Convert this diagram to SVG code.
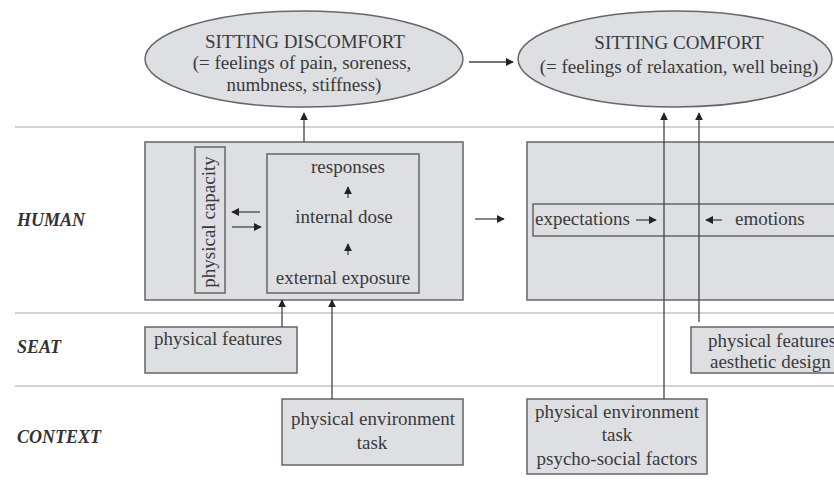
<svg xmlns="http://www.w3.org/2000/svg" width="834" height="484" viewBox="0 0 834 484">
<defs>
<marker id="ah" viewBox="0 0 10 10" refX="9" refY="5" markerWidth="8" markerHeight="8" markerUnits="userSpaceOnUse" orient="auto">
<path d="M0,0 L10,5 L0,10 z" fill="#222"/>
</marker>
<style>
.t{font-family:"Liberation Serif","Times New Roman",serif;font-size:19px;fill:#3a3a3a}
.m{text-anchor:middle}
.lab{font-family:"Liberation Serif","Times New Roman",serif;font-size:18px;font-weight:bold;font-style:italic;fill:#333}
.box{fill:#dddfe3;stroke:#666;stroke-width:1.5}
.lane{stroke:#c4c4c4;stroke-width:1.5}
.ca{stroke:#444;stroke-width:1.3;fill:none;marker-end:url(#ah)}
</style>
</defs>
<rect width="834" height="484" fill="#fff"/>
<g id="lanes">
<line class="lane" x1="15" y1="127" x2="834" y2="127"/>
<line class="lane" x1="15" y1="313" x2="834" y2="313"/>
<line class="lane" x1="15" y1="386" x2="834" y2="386"/>
<text class="lab" x="17" y="226">HUMAN</text>
<text class="lab" x="17" y="353">SEAT</text>
<text class="lab" x="17" y="443">CONTEXT</text>
</g>
<g id="discomfort">
<ellipse class="box" cx="304" cy="59" rx="159" ry="48"/>
<text class="t m" x="305" y="48">SITTING DISCOMFORT</text>
<text class="t m" x="302" y="69">(= feelings of pain, soreness,</text>
<text class="t m" x="304" y="91">numbness, stiffness)</text>
</g>
<g id="comfort">
<ellipse class="box" cx="675" cy="59" rx="157" ry="48"/>
<text class="t m" x="679" y="49">SITTING COMFORT</text>
<text class="t m" x="679" y="73">(= feelings of relaxation, well being)</text>
</g>
<g id="human-left">
<rect class="box" x="145" y="142" width="318" height="158"/>
</g>
<g id="capacity">
<rect class="box" x="195" y="147" width="30" height="146"/>
<text class="t m" transform="translate(215,222) rotate(-90)">physical capacity</text>
</g>
<g id="dose">
<rect class="box" x="267" y="154" width="152" height="139"/>
<text class="t m" x="348" y="173">responses</text>
<text class="t m" x="344" y="223">internal dose</text>
<text class="t m" x="343" y="284">external exposure</text>
</g>
<g id="human-right">
<rect class="box" x="527" y="142" width="320" height="158"/>
<rect class="box" x="533" y="204" width="314" height="32"/>
<text class="t" x="535" y="225">expectations</text>
<text class="t" x="735" y="225">emotions</text>
</g>
<g id="seat-left">
<rect class="box" x="145" y="327" width="152" height="46"/>
<text class="t" x="154" y="345">physical features</text>
</g>
<g id="seat-right">
<rect class="box" x="691" y="327" width="160" height="46"/>
<text class="t" x="708" y="347">physical features</text>
<text class="t" x="710" y="368">aesthetic design</text>
</g>
<g id="context-left">
<rect class="box" x="282" y="399" width="181" height="66"/>
<text class="t m" x="373" y="425">physical environment</text>
<text class="t m" x="372" y="449">task</text>
</g>
<g id="context-right">
<rect class="box" x="527" y="399" width="180" height="75"/>
<text class="t m" x="617" y="418">physical environment</text>
<text class="t m" x="617" y="441">task</text>
<text class="t m" x="617" y="465">psycho-social factors</text>
</g>
<g id="connectors">
<line class="ca" x1="304" y1="142" x2="304" y2="113"/>
<line class="ca" x1="469" y1="62" x2="513" y2="62"/>
<line class="ca" x1="475" y1="219" x2="504" y2="219"/>
<line class="ca" x1="664" y1="399" x2="664" y2="113"/>
<line class="ca" x1="699" y1="322" x2="699" y2="113"/>
<line class="ca" x1="348" y1="198" x2="348" y2="187"/>
<line class="ca" x1="348" y1="255" x2="348" y2="244"/>
<line class="ca" x1="260" y1="212" x2="232" y2="212"/>
<line class="ca" x1="232" y1="227" x2="261" y2="227"/>
<line class="ca" x1="282" y1="327" x2="282" y2="300"/>
<line class="ca" x1="332" y1="399" x2="332" y2="300"/>
<line class="ca" x1="636" y1="220" x2="656" y2="220"/>
<line class="ca" x1="722" y1="220" x2="706" y2="220"/>
</g>
</svg>
